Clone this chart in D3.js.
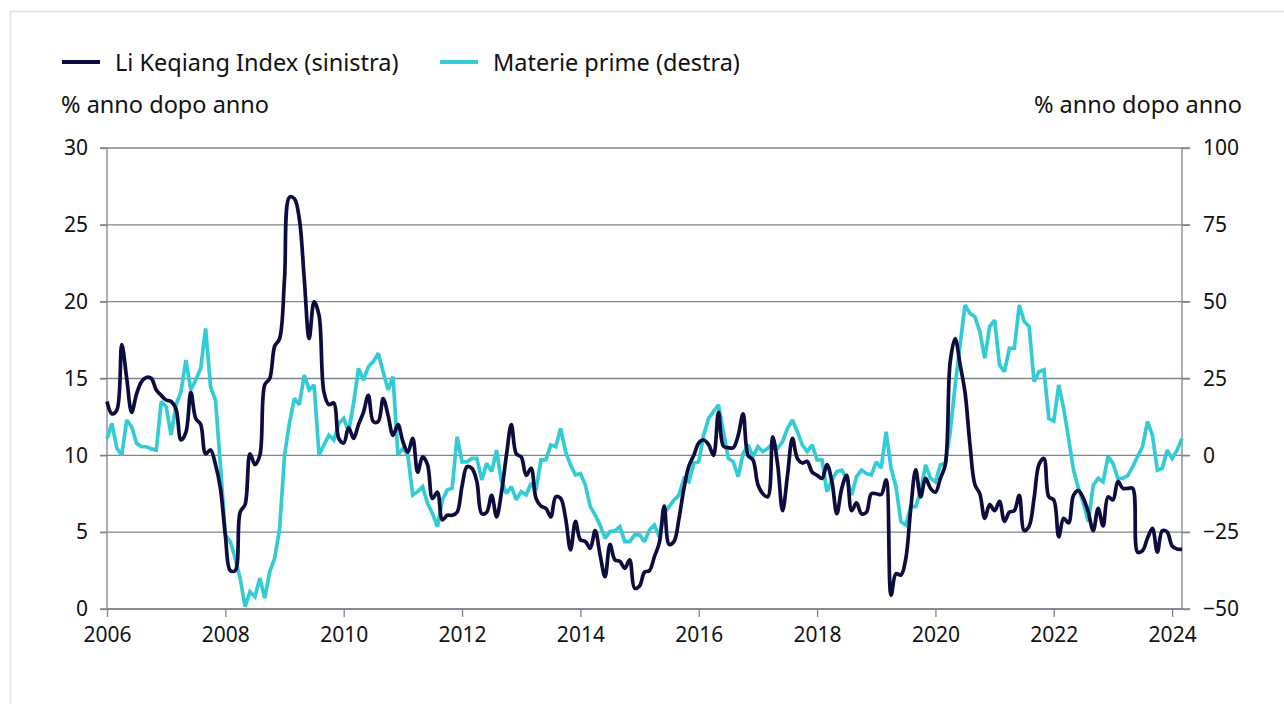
<!DOCTYPE html>
<html>
<head>
<meta charset="utf-8">
<script src="https://cdn.jsdelivr.net/npm/d3@7"></script>
<style>
  html, body { margin: 0; padding: 0; background: #ffffff; }
  svg text { font-family: "Source Sans Pro", "Noto Sans", Lato, sans-serif; fill: #111; }
</style>
</head>
<body>
<svg id="chart" width="1284" height="704"></svg>
<script>
// ---- data (monthly, Jan 2006 .. Mar 2024) ----
const startYear = 2006;
const seriesNames = ["Li Keqiang Index (sinistra)", "Materie prime (destra)"];
const leftTicks = [0, 5, 10, 15, 20, 25, 30];
const rightTicks = [-50, -25, 0, 25, 50, 75, 100];
const yearTicks = [2006, 2008, 2010, 2012, 2014, 2016, 2018, 2020, 2022, 2024];
const unitLabel = "% anno dopo anno";

const liKeqiang = [
  13.5, 12.7, 12.95, 17.2, 15.0, 12.8, 14.0, 14.8, 15.07, 15.0, 14.25, 13.9,
  13.6, 13.5, 13.0, 11.0, 11.5, 14.1, 12.4, 12.0, 10.1, 10.35, 9.4, 7.85,
  4.8, 2.5, 2.5, 6.3, 6.8, 10.1, 9.4, 10.0, 14.6, 15.0, 17.1, 17.6,
  21.5, 26.8, 26.7, 25.4, 21.5, 17.6, 20.0, 19.1, 14.1, 13.3, 13.4, 11.1,
  10.8, 11.8, 11.1, 12.0, 12.8, 13.9, 12.2, 12.2, 13.7, 12.6, 11.3, 12.0,
  10.9, 10.2, 11.1, 8.9, 9.9, 9.4, 7.2, 7.6, 5.8, 6.1, 6.1, 6.3,
  8.0, 9.26, 9.15, 8.3, 6.2, 6.3, 7.4, 6.0, 7.6, 10.0, 12.0, 10.1,
  9.9, 8.7, 9.15, 7.2, 6.7, 6.55, 6.0, 7.3, 7.2, 5.9, 3.84, 5.7,
  4.5, 4.4, 3.95, 5.1, 3.5, 2.1, 4.2, 3.2, 3.1, 2.65, 3.2, 1.35,
  1.5, 2.4, 2.5, 3.4, 4.3, 6.7, 4.2, 4.4, 5.9, 7.85, 9.3, 10.0,
  10.8, 11.0, 10.7, 10.0, 12.8, 10.6, 10.5, 10.5, 11.3, 12.7, 10.0, 9.7,
  8.1, 7.5, 7.3, 11.2, 9.4, 6.4, 8.7, 11.1, 9.8, 9.5, 9.6, 8.9,
  8.7, 8.5, 9.4, 8.3, 6.2, 7.85, 8.7, 6.4, 6.9, 6.2, 6.3, 7.5,
  7.5, 7.45, 8.4, 0.9, 2.3, 2.2, 3.3, 6.55, 9.05, 7.3, 8.5, 7.85,
  7.6, 8.5, 9.4, 16.1, 17.6, 15.9, 14.1, 10.7, 8.1, 7.5, 5.9, 6.8,
  6.4, 7.0, 5.7, 6.3, 6.4, 7.4, 5.1, 5.4, 7.2, 9.4, 9.8, 7.3,
  7.1, 4.7, 5.9, 5.6, 7.4, 7.7, 7.2, 6.3, 5.1, 6.55, 5.4, 7.3,
  7.1, 8.3, 7.85, 7.85, 7.85, 3.7, 3.8, 4.6, 5.25, 3.7, 5.1, 5.0,
  4.1, 3.9, 3.9
];

const commodities = [
  5.4, 10.4, 2.3, 0.1, 11.5, 9.3, 3.9, 2.8, 2.8, 2.1, 1.7, 17.5,
  15.8, 6.6, 16.4, 20.7, 31.0, 21.3, 24.5, 28.3, 41.3, 22.3, 18.0, -3.1,
  -25.9, -28.1, -33.5, -40.0, -49.2, -44.4, -46.0, -40.0, -46.5, -37.9, -33.5, -24.0,
  0.0, 10.5, 18.5, 16.5, 26.1, 21.3, 22.9, 0.1, 3.4, 6.6, 5.0, 10.4,
  12.0, 7.7, 16.9, 28.3, 24.5, 28.8, 30.5, 33.2, 27.2, 21.3, 25.6, 0.1,
  2.3, 0.1, -12.9, -11.8, -10.2, -15.6, -18.9, -23.2, -14.5, -11.3, -10.7, 6.1,
  -2.1, -2.1, -1.0, -1.0, -8.0, -2.6, -5.3, 1.7, -8.6, -12.4, -10.2, -14.5,
  -11.8, -12.9, -9.1, -11.3, -1.5, -1.5, 3.4, 2.8, 8.8, 1.2, -3.1, -6.4,
  -5.9, -9.6, -16.7, -19.4, -22.7, -27.0, -24.8, -24.6, -23.2, -28.1, -28.1, -25.9,
  -25.9, -28.1, -24.3, -22.7, -26.5, -18.9, -16.7, -14.5, -12.9, -7.5, -8.6, -2.6,
  -2.1, 6.6, 12.0, 14.2, 16.4, 7.7, -1.0, -2.1, -6.9, 0.65, 3.4, -0.4,
  2.8, 1.2, 2.3, 3.9, 2.3, 4.5, 8.8, 11.5, 7.7, 3.4, 1.2, 3.4,
  -1.5, -1.5, -11.8, -8.0, -5.3, -4.8, -7.5, -12.9, -6.9, -4.8, -5.9, -6.4,
  -2.1, -4.2, 7.7, -4.2, -10.2, -21.6, -22.7, -16.7, -16.7, -11.8, -3.1, -7.5,
  -8.6, -3.1, -2.6, 7.7, 22.9, 35.9, 48.9, 46.2, 45.1, 40.2, 31.6, 41.9,
  44.0, 29.4, 27.2, 34.8, 34.8, 48.9, 43.5, 41.9, 24.0, 27.2, 27.8, 12.0,
  11.2, 22.9, 15.3, 5.5, -4.8, -10.7, -15.6, -21.6, -9.7, -7.5, -8.6, -0.4,
  -2.6, -7.5, -7.5, -6.6, -3.7, -0.4, 2.8, 11.0, 6.6, -4.8, -4.2, 1.7,
  -1.0, 1.7, 5.5
];

// ---- drawing ----
const svg = d3.select("#chart");
const colDark = "#0c0c3e";
const colCyan = "#33ccd5";
const gridCol = "#7d858e";

const plotL = 107, plotR = 1182, plotT = 148, plotB = 609;
const lastT = startYear + (liKeqiang.length - 1) / 12;

const x = d3.scaleLinear().domain([startYear, lastT]).range([plotL, plotR]);
const yL = d3.scaleLinear().domain([0, 30]).range([plotB, plotT]);
const yR = d3.scaleLinear().domain([-50, 100]).range([plotB, plotT]);
const tOf = i => startYear + i / 12;

// outer frame
svg.append("rect").attr("x", 10.5).attr("y", 11.5).attr("width", 1300).attr("height", 720)
  .attr("fill", "none").attr("stroke", "#dfe2e7").attr("stroke-width", 1.5);

// gridlines
svg.append("g").selectAll("line").data(leftTicks).join("line")
  .attr("x1", plotL - 7).attr("x2", plotR + 8)
  .attr("y1", d => yL(d)).attr("y2", d => yL(d))
  .attr("stroke", gridCol).attr("stroke-width", 1.3);

// left axis
const gL = svg.append("g").attr("transform", `translate(${plotL},0)`)
  .call(d3.axisLeft(yL).tickValues(leftTicks).tickSize(7).tickPadding(12).tickFormat(d3.format("d")));
// right axis
const gR = svg.append("g").attr("transform", `translate(${plotR},0)`)
  .call(d3.axisRight(yR).tickValues(rightTicks).tickSize(8).tickPadding(13).tickFormat(d3.format("d")));
// bottom axis
const gB = svg.append("g").attr("transform", `translate(0,${plotB})`)
  .call(d3.axisBottom(x).tickValues(yearTicks).tickSize(8).tickPadding(10).tickFormat(d3.format("d")));

[gL, gR, gB].forEach(g => {
  g.select(".domain").attr("stroke", gridCol).attr("stroke-width", 1.3);
  g.selectAll(".tick line").attr("stroke", gridCol).attr("stroke-width", 1.3);
  g.selectAll("text").attr("font-size", 21).attr("fill", "#111")
    .style("font-family", '"Source Sans Pro", "Noto Sans", Lato, sans-serif');
});
gL.select(".domain").attr("d", `M0,${plotT}V${plotB}`);
gR.select(".domain").attr("d", `M0,${plotT}V${plotB}`);
gB.select(".domain").attr("d", `M${plotL},0H${plotR}`);

// lines
const lineDark = d3.line()
  .x((d, i) => x(tOf(i))).y(d => yL(d))
  .curve(d3.curveCatmullRom.alpha(0.5));
const lineCyan = d3.line()
  .x((d, i) => x(tOf(i))).y(d => yR(d));

svg.append("path").datum(commodities).attr("d", lineCyan)
  .attr("fill", "none").attr("stroke", colCyan).attr("stroke-width", 3.7)
  .attr("stroke-linejoin", "miter").attr("stroke-miterlimit", 2);
svg.append("path").datum(liKeqiang).attr("d", lineDark)
  .attr("fill", "none").attr("stroke", colDark).attr("stroke-width", 3.7)
  .attr("stroke-linejoin", "round");

// legend
const legend = [
  { name: seriesNames[0], color: colDark, x: 62 },
  { name: seriesNames[1], color: colCyan, x: 440 }
];
const lg = svg.append("g");
legend.forEach(l => {
  lg.append("line").attr("x1", l.x).attr("x2", l.x + 38).attr("y1", 62).attr("y2", 62)
    .attr("stroke", l.color).attr("stroke-width", 4);
  lg.append("text").attr("x", l.x + 53).attr("y", 71).attr("font-size", 23.5).text(l.name);
});

// unit labels
svg.append("text").attr("x", 61).attr("y", 113).attr("font-size", 23.5).text(unitLabel);
svg.append("text").attr("x", 1242).attr("y", 113).attr("font-size", 23.5)
  .attr("text-anchor", "end").text(unitLabel);
</script>
</body>
</html>
